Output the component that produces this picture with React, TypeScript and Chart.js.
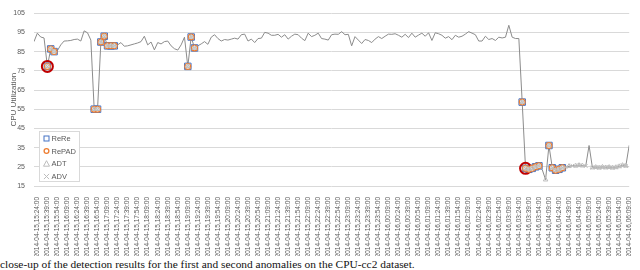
import React, { useEffect, useRef } from 'react';
import { Chart, registerables } from 'chart.js';

Chart.register(...registerables);

// Category tick labels (one every 15 minutes; data every 5 minutes, first point at 15:19)
const tickLabels = [
  '2014-04-15,15:24:00', '2014-04-15,15:39:00', '2014-04-15,15:54:00', '2014-04-15,16:09:00',
  '2014-04-15,16:24:00', '2014-04-15,16:39:00', '2014-04-15,16:54:00', '2014-04-15,17:09:00',
  '2014-04-15,17:24:00', '2014-04-15,17:39:00', '2014-04-15,17:54:00', '2014-04-15,18:09:00',
  '2014-04-15,18:24:00', '2014-04-15,18:39:00', '2014-04-15,18:54:00', '2014-04-15,19:09:00',
  '2014-04-15,19:24:00', '2014-04-15,19:39:00', '2014-04-15,19:54:00', '2014-04-15,20:09:00',
  '2014-04-15,20:24:00', '2014-04-15,20:39:00', '2014-04-15,20:54:00', '2014-04-15,21:09:00',
  '2014-04-15,21:24:00', '2014-04-15,21:39:00', '2014-04-15,21:54:00', '2014-04-15,22:09:00',
  '2014-04-15,22:24:00', '2014-04-15,22:39:00', '2014-04-15,22:54:00', '2014-04-15,23:09:00',
  '2014-04-15,23:24:00', '2014-04-15,23:39:00', '2014-04-15,23:54:00', '2014-04-16,00:09:00',
  '2014-04-16,00:24:00', '2014-04-16,00:39:00', '2014-04-16,00:54:00', '2014-04-16,01:09:00',
  '2014-04-16,01:24:00', '2014-04-16,01:39:00', '2014-04-16,01:54:00', '2014-04-16,02:09:00',
  '2014-04-16,02:24:00', '2014-04-16,02:39:00', '2014-04-16,02:54:00', '2014-04-16,03:09:00',
  '2014-04-16,03:24:00', '2014-04-16,03:39:00', '2014-04-16,03:54:00', '2014-04-16,04:09:00',
  '2014-04-16,04:24:00', '2014-04-16,04:39:00', '2014-04-16,04:54:00', '2014-04-16,05:09:00',
  '2014-04-16,05:24:00', '2014-04-16,05:39:00', '2014-04-16,05:54:00', '2014-04-16,06:09:00',
];

// CPU utilization, one value per 5-minute step
const cpuUtilization = [
  90.2, 94.6, 92.6, 92.1, 77.3, 86.4, 85.0, 85.5, 88.5, 90.5,
  90.6, 90.8, 91.3, 91.5, 90.5, 95.8, 94.8, 91.0, 55.0, 55.0,
  90.0, 93.0, 88.0, 88.0, 88.0, 88.5, 89.7, 87.8, 88.0, 88.5,
  89.0, 89.5, 90.2, 93.0, 88.5, 90.0, 85.9, 89.7, 89.0, 90.2,
  90.5, 88.0, 86.5, 85.8, 88.5, 92.5, 77.3, 92.6, 86.9, 88.0,
  89.0, 90.2, 88.8, 92.5, 93.8, 91.8, 90.5, 91.3, 91.0, 91.5,
  92.0, 91.5, 93.8, 94.1, 90.5, 91.5, 89.7, 91.8, 92.0, 95.0,
  94.6, 93.5, 93.5, 94.0, 92.5, 93.8, 91.5, 93.0, 94.1, 93.8,
  92.0, 90.7, 94.6, 92.8, 93.5, 94.6, 91.8, 91.5, 91.0, 93.8,
  94.1, 94.0, 95.4, 93.8, 94.0, 88.0, 92.8, 91.0, 89.2, 91.3,
  90.8, 89.7, 91.5, 92.8, 91.8, 93.0, 94.1, 94.0, 94.3, 93.5,
  92.5, 94.0, 92.3, 94.6, 92.5, 93.6, 94.6, 93.0, 94.8, 90.8,
  94.8, 94.3, 93.5, 92.0, 92.8, 91.2, 93.5, 92.5, 93.0, 94.1,
  95.4, 94.6, 93.8, 90.5, 90.5, 93.0, 91.3, 91.8, 90.8, 92.5,
  92.1, 92.5, 98.7, 92.5, 91.8, 91.8, 58.7, 24.2, 23.7, 24.2,
  25.0, 25.5, 23.5, 18.3, 36.1, 24.5, 23.2, 23.7, 24.5, 24.8,
  25.3, 25.6, 25.5, 25.8, 25.6, 25.4, 36.1, 24.6, 24.8, 24.5,
  24.9, 24.6, 24.8, 24.5, 24.7, 25.2, 25.8, 25.5, 36.2,
];

// Detected points (indices into cpuUtilization)
const rereDetections = [4, 5, 6, 18, 19, 20, 21, 22, 23, 24, 46, 47, 48, 146, 147, 148, 149, 150, 151, 154, 155, 156, 157, 158];
const repadDetections = [4, 5, 6, 18, 19, 20, 21, 22, 23, 24, 46, 47, 48, 146, 147, 148, 149, 150, 151, 154, 155, 156, 157, 158];
const adtDetections = [4, 5, 6, 18, 19, 20, 21, 22, 23, 24, 46, 47, 48, 146, 147, 148, 149, 150, 151, 153, 154, 155, 156, 157, 158,
  160, 162, 163, 164, 167, 168, 169, 170, 171, 172, 173, 174, 175, 176, 177];
const advDetections = [4, 5, 6, 18, 19, 20, 21, 22, 23, 24, 46, 47, 48, 146, 147, 148, 149, 150, 151, 154, 155, 156, 157, 158,
  159, 161, 163, 165, 167, 168, 169, 170, 171, 172, 173, 174, 175, 176, 177];
const trueAnomalies = [4, 147];

const legendNames = ['ReRe', 'RePAD', 'ADT', 'ADV'];
const yTitle = 'CPU Utilization';
const caption = 'close-up of the detection results for the first and second anomalies on the CPU-cc2 dataset.';

const FONT = "'Liberation Sans', Arial, sans-serif";
const GREY_TEXT = '#595959';
const BLUE = '#4472C4';
const ORANGE = '#ED7D31';
const LIGHT = '#BDBDBD';

const pts = (idx: number[]) => idx.map((k) => ({ x: k, y: cpuUtilization[k] }));

const legendPlugin = {
  id: 'boxLegend',
  afterDraw(chart: any) {
    const ctx = chart.ctx as CanvasRenderingContext2D;
    const bx = 39.5, by = 131.5, bw = 40, bh = 50;
    ctx.save();
    ctx.fillStyle = '#ffffff';
    ctx.fillRect(bx, by, bw, bh);
    ctx.strokeStyle = '#D9D9D9';
    ctx.lineWidth = 1;
    ctx.strokeRect(bx, by, bw, bh);
    const rowY = [138.5, 151, 163.7, 176.5];
    const mx = 46.5;
    legendNames.forEach((name, i) => {
      const y = rowY[i];
      ctx.lineWidth = 1;
      if (i === 0) {
        ctx.strokeStyle = BLUE;
        ctx.strokeRect(mx - 2.5, y - 2.5, 5, 5);
      } else if (i === 1) {
        ctx.strokeStyle = ORANGE;
        ctx.lineWidth = 1.3;
        ctx.beginPath();
        ctx.arc(mx, y, 2.4, 0, Math.PI * 2);
        ctx.stroke();
      } else if (i === 2) {
        ctx.strokeStyle = LIGHT;
        ctx.beginPath();
        ctx.moveTo(mx, y - 3);
        ctx.lineTo(mx + 3, y + 2.5);
        ctx.lineTo(mx - 3, y + 2.5);
        ctx.closePath();
        ctx.stroke();
      } else {
        ctx.strokeStyle = LIGHT;
        ctx.beginPath();
        ctx.moveTo(mx - 2.6, y - 2.6);
        ctx.lineTo(mx + 2.6, y + 2.6);
        ctx.moveTo(mx + 2.6, y - 2.6);
        ctx.lineTo(mx - 2.6, y + 2.6);
        ctx.stroke();
      }
      ctx.fillStyle = GREY_TEXT;
      ctx.font = `7.5px ${FONT}`;
      ctx.textBaseline = 'middle';
      ctx.textAlign = 'left';
      ctx.fillText(name, 51.5, y + 0.5);
    });
    ctx.restore();
  },
};

export default function App() {
  const ref = useRef<HTMLCanvasElement>(null);

  useEffect(() => {
    const canvas = ref.current;
    if (!canvas) return;
    const chart = new Chart(canvas, {
      type: 'line',
      data: {
        datasets: [
          {
            label: 'CPU',
            data: cpuUtilization.map((v, k) => ({ x: k, y: v })),
            borderColor: '#8C8C8C',
            borderWidth: 1,
            pointRadius: 0,
            tension: 0,
            order: 6,
          },
          {
            label: 'anomaly',
            data: pts(trueAnomalies),
            showLine: false,
            pointStyle: 'circle',
            pointRadius: 5.5,
            pointBorderWidth: 2,
            pointBorderColor: '#C00000',
            pointBackgroundColor: 'rgba(0,0,0,0)',
            order: 4,
          },
          {
            label: legendNames[0],
            data: pts(rereDetections),
            showLine: false,
            pointStyle: 'rect',
            pointRadius: 4.6,
            pointBorderWidth: 1,
            pointBorderColor: BLUE,
            pointBackgroundColor: '#ffffff',
            order: 5,
          },
          {
            label: legendNames[1],
            data: pts(repadDetections),
            showLine: false,
            pointStyle: 'circle',
            pointRadius: 2.9,
            pointBorderWidth: 1.2,
            pointBorderColor: ORANGE,
            pointBackgroundColor: '#ffffff',
            order: 3,
          },
          {
            label: legendNames[2],
            data: pts(adtDetections),
            showLine: false,
            pointStyle: 'triangle',
            pointRadius: 2.6,
            pointBorderWidth: 1,
            pointBorderColor: LIGHT,
            pointBackgroundColor: 'rgba(0,0,0,0)',
            order: 2,
          },
          {
            label: legendNames[3],
            data: pts(advDetections),
            showLine: false,
            pointStyle: 'crossRot',
            pointRadius: 2.6,
            pointBorderWidth: 1,
            pointBorderColor: LIGHT,
            pointBackgroundColor: 'rgba(0,0,0,0)',
            order: 1,
          },
        ],
      },
      options: {
        responsive: false,
        animation: false,
        devicePixelRatio: 1,
        layout: { padding: { top: 4, right: 4, left: 0, bottom: 0 } },
        plugins: { legend: { display: false }, tooltip: { enabled: false } },
        scales: {
          x: {
            type: 'linear',
            min: 0,
            max: cpuUtilization.length - 1,
            grid: { display: false },
            border: { display: false },
            afterBuildTicks: (scale: any) => {
              scale.ticks = tickLabels.map((_, j) => ({ value: 1 + 3 * j }));
            },
            afterFit: (scale: any) => {
              scale.height = 70;
            },
            ticks: {
              autoSkip: false,
              minRotation: 90,
              maxRotation: 90,
              padding: 3,
              color: GREY_TEXT,
              font: { family: FONT, size: 6.5 },
              callback: (v: any) => tickLabels[Math.round((Number(v) - 1) / 3)] ?? '',
            },
          },
          y: {
            min: 15,
            max: 105,
            grid: { color: '#D9D9D9', drawTicks: false, lineWidth: 1 },
            border: { display: false },
            ticks: {
              stepSize: 10,
              padding: 9,
              color: GREY_TEXT,
              font: { family: FONT, size: 7 },
            },
            title: {
              display: true,
              text: yTitle,
              color: GREY_TEXT,
              font: { family: FONT, size: 8 },
              padding: { top: 9, bottom: 0 },
            },
            afterFit: (scale: any) => {
              scale.width = 34;
            },
          },
        },
      },
      plugins: [legendPlugin],
    } as any);
    return () => chart.destroy();
  }, []);

  return (
    <div style={{ position: 'absolute', left: 0, top: 0, width: 640, height: 270, overflow: 'hidden', background: '#fff' }}>
      <canvas ref={ref} width={640} height={256} style={{ display: 'block', width: 640, height: 256 }} />
      <div
        style={{
          position: 'absolute',
          left: 0,
          top: 258.2,
          fontFamily: "'Liberation Serif', 'Times New Roman', serif",
          fontSize: 11.4,
          lineHeight: '13px',
          color: '#111',
          whiteSpace: 'nowrap',
        }}
      >
        {caption}
      </div>
    </div>
  );
}
